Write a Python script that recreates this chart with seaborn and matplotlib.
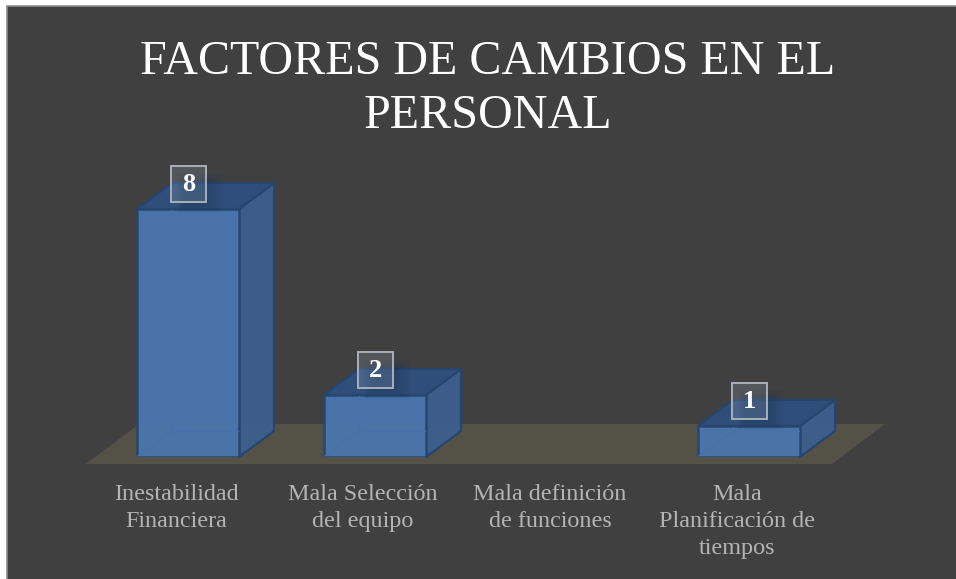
#!/usr/bin/env python3
# factores de cambios en el personal, fake 3d bars on a dark slide

import pandas as pd
import matplotlib
matplotlib.use('Agg')
import matplotlib.pyplot as plt
from matplotlib.patches import Polygon, Rectangle
from matplotlib.transforms import ScaledTranslation
import seaborn as sns

title = 'FACTORES DE CAMBIOS EN EL\nPERSONAL'
categories = ['Inestabilidad\nFinanciera', 'Mala Selección\ndel equipo',
              'Mala definición\nde funciones', 'Mala\nPlanificación de\ntiempos']
values = [8, 2, 0, 1]

W, H = 956, 579
BG = '#404040'
FRONT = '#4A76AD'
SIDE = '#3C5F8C'
TOP = '#2F4F7A'
EDGE = '#26466F'
DX, DY = 35, 26  # depth of the boxes in pixels

sns.set_style('dark')
plt.rcParams['font.family'] = ['Liberation Serif', 'DejaVu Serif']

fig = plt.figure(figsize=(W / 100, H / 100), dpi=100, facecolor='white')


def px(x, y):
    return (x / W, 1 - y / H)


# slide background and floor
fig.patches.append(Rectangle(px(6.5, H + 5), (W + 5) / W, (H - 0.5) / H, transform=fig.transFigure,
                             facecolor=BG, edgecolor='#8C8C8C', lw=1.2, zorder=0))
floor = [px(86, 464), px(832, 464), px(885, 424), px(139, 424)]
fig.patches.append(Polygon(floor, closed=True, transform=fig.transFigure,
                           facecolor='#545147', edgecolor='none', zorder=1))

# axes placed so one value unit is 31 px and one category 187 px
ax = fig.add_axes([94.5 / W, 1 - 457 / H, 748 / W, 248 / H])
ax.set_zorder(5)
ax.patch.set_alpha(0)
df = pd.DataFrame({'factor': categories, 'n': values})
sns.barplot(data=df, x='factor', y='n', ax=ax, color=FRONT, saturation=1, width=102 / 187,
            edgecolor=EDGE, linewidth=1.8, alpha=0.96, zorder=5)
ax.set_xlim(-0.5, 3.5)
ax.set_ylim(0, 8)
ax.set_xlabel('')
ax.set_ylabel('')
ax.set_yticks([])
ax.grid(False)
for s in ax.spines.values():
    s.set_visible(False)

ax.tick_params(axis='x', length=0, pad=19.5, labelsize=17.4, labelcolor='#B4B4B4')
shift = ScaledTranslation(-12 / 100, 0, fig.dpi_scale_trans)
for lab in ax.get_xticklabels():
    lab.set_transform(lab.get_transform() + shift)
    lab.set_linespacing(1.37)
    lab.set_verticalalignment('top')

# sides, tops and value boxes are worked out from the seaborn bars
to_data = ax.transData.inverted()
for bar, val in zip(list(ax.patches), values):
    if val == 0:
        bar.set_visible(False)
        continue
    (x0, y0), (x1, y1) = ax.transData.transform([(bar.get_x(), 0), (bar.get_x() + bar.get_width(), val)])

    def dpoly(pts):
        return to_data.transform(pts)

    side = [(x1, y0), (x1 + DX, y0 + DY), (x1 + DX, y1 + DY), (x1, y1)]
    top = [(x0, y1), (x1, y1), (x1 + DX, y1 + DY), (x0 + DX, y1 + DY)]
    ax.add_patch(Polygon(dpoly(side), facecolor=SIDE, edgecolor=EDGE, lw=1.6, alpha=0.97,
                         joinstyle='round', zorder=4, clip_on=False))
    ax.add_patch(Polygon(dpoly(top), facecolor=TOP, edgecolor=EDGE, lw=1.6,
                         joinstyle='round', zorder=4, clip_on=False))

    # faint hidden edges seen through the front face
    for a, b in [((x0 + 1, y0 + 1), (x0 + DX, y0 + DY)), ((x0 + DX, y0 + DY), (x1 - 1, y0 + DY)),
                 ((x0 + DX, y0 + DY), (x0 + DX, y1 - 1))]:
        xs, ys = zip(*dpoly([a, b]))
        ax.plot(xs, ys, color='#4672AB', lw=1.0, zorder=6, clip_on=False)

    cx = (x0 + x1) / 2
    cy = y1 + 25

    # soft shadow under the value box
    for grow in range(0, 16, 2):
        sx0, sx1 = cx - 4 - grow / 2, cx + 22 + grow
        sy0, sy1 = cy - 22 - grow / 2, cy + 4 + grow / 2
        xy = dpoly([(sx0, sy0), (sx1, sy1)])
        ax.add_patch(Rectangle(xy[0], xy[1][0] - xy[0][0], xy[1][1] - xy[0][1], facecolor='#203A5E',
                               edgecolor='none', alpha=0.06, zorder=7, clip_on=False))

    tx, ty = to_data.transform((cx, cy))
    ax.annotate(str(val), (tx, ty), xytext=(0.5, -0.5), textcoords='offset points', ha='center', va='center',
                fontsize=19, fontweight='bold', color='white', zorder=9, annotation_clip=False)
    xy = dpoly([(cx - 17.5, cy - 18), (cx + 17.5, cy + 18)])
    ax.add_patch(Rectangle(xy[0], xy[1][0] - xy[0][0], xy[1][1] - xy[0][1], facecolor='#B4BECD',
                           alpha=0.18, edgecolor='none', zorder=8, clip_on=False))
    ax.add_patch(Rectangle(xy[0], xy[1][0] - xy[0][0], xy[1][1] - xy[0][1], facecolor='none',
                           edgecolor='#A9AFB8', lw=1.4, zorder=8, clip_on=False))

fig.text(488 / W, 1 - 89 / H, title, ha='center', va='center', fontsize=34.6, color='white',
         linespacing=1.31, zorder=10)

plt.savefig('out.png', dpi=100, facecolor=fig.get_facecolor())
